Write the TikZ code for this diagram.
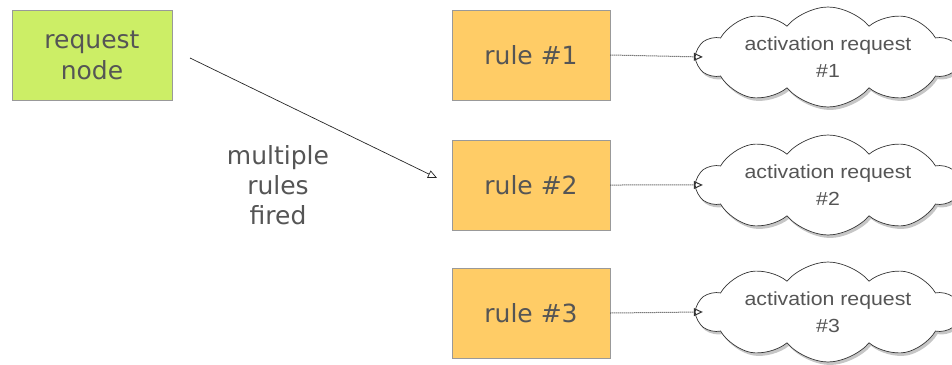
\documentclass[tikz,border=0pt]{standalone}
\usepackage{fontspec}
\setmainfont{DejaVu Sans}
\newfontfamily\cloudfont[FakeStretch=1.12]{Liberation Sans}
\usetikzlibrary{shapes.symbols,shadows,arrows.meta}
\definecolor{reqgreen}{HTML}{CCEE66}
\definecolor{ruleorange}{HTML}{FFCC66}
\definecolor{txtgray}{HTML}{555555}
\tikzset{
  box/.style={draw=gray!80, line width=0.6pt, minimum width=158pt, minimum height=90pt, inner sep=0pt,
     text=txtgray, font=\fontsize{25}{31}\selectfont, align=center,
     drop shadow={shadow xshift=1pt, shadow yshift=-1pt, opacity=0.25}},
  reqbox/.style={box, fill=reqgreen, minimum width=160pt},
  rulebox/.style={box, fill=ruleorange},
  act/.style={cloud, cloud puffs=10, cloud puff arc=100, aspect=3.4, draw=gray!40!black, line width=0.7pt, fill=white,
     minimum width=262pt, minimum height=72pt, inner sep=0pt, text=txtgray, align=center,
     font=\cloudfont\fontsize{19}{27}\selectfont,
     drop shadow={shadow xshift=2pt, shadow yshift=-3pt, opacity=0.45}},
  conn/.style={draw=gray!30!black, line width=0.7pt, -{Triangle[open, length=9pt, width=8pt]}},
  dconn/.style={draw=gray!40!black, line width=1pt, densely dotted, -{Triangle[open, length=9pt, width=8pt]}},
}
\begin{document}
\begin{tikzpicture}[x=1pt,y=-1pt]
\useasboundingbox (0,0) rectangle (952,364);
\clip (0,0) rectangle (952,364);
\node[reqbox] (req) at (92,55) {request\\node};
\node[rulebox] (r1) at (531,55) {rule \#1};
\node[rulebox] (r2) at (531,185) {rule \#2};
\node[rulebox] (r3) at (531,313) {rule \#3};
\node[act] (c1) at (828,57) {activation request\\\#1};
\node[act] (c2) at (828,185) {activation request\\\#2};
\node[act] (c3) at (828,312) {activation request\\\#3};
\coordinate (s) at (190,58);
\coordinate (e) at (437,178);
\draw[conn] (s) -- (e);
\node[text=txtgray, font=\fontsize{25}{30}\selectfont, align=center] (lbl) at (278,185) {multiple\\rules\\fired};
\draw[dconn] (r1.east) -- ([xshift=8pt]c1.west);
\draw[dconn] (r2.east) -- ([xshift=8pt]c2.west);
\draw[dconn] (r3.east) -- ([xshift=8pt]c3.west);
\end{tikzpicture}
\end{document}
